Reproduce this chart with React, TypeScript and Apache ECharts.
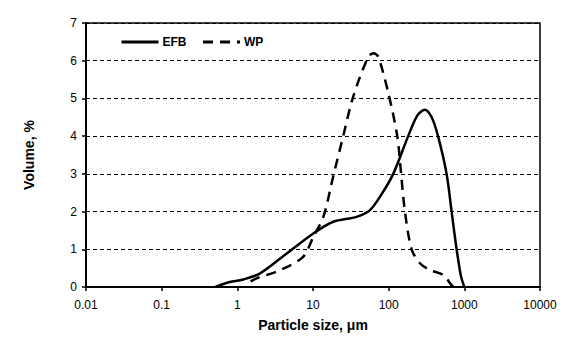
import React, { useEffect, useRef } from "react";
import * as echarts from "echarts";

const efbSize = [0.51, 0.75, 1.2, 2.0, 4.5, 10.1, 18.5, 37.7, 56.6, 80, 115, 181, 240, 300, 370, 449, 583, 679, 791, 900, 1000];
const efbVolume = [0, 0.12, 0.2, 0.36, 0.89, 1.42, 1.73, 1.86, 2.04, 2.45, 3.0, 4.0, 4.55, 4.7, 4.5, 4.0, 3.0, 2.0, 1.0, 0.3, 0];
const wpSize = [1.5, 1.8, 3.7, 7.4, 10.1, 13.7, 18.5, 25, 34, 53.6, 63, 73, 99, 130, 146, 164, 201, 259, 350, 525, 676, 716];
const wpVolume = [0.15, 0.23, 0.45, 0.8, 1.33, 1.86, 2.93, 3.99, 5.05, 6.1, 6.2, 6.1, 5.14, 4.0, 3.0, 2.0, 1.0, 0.63, 0.45, 0.32, 0.05, 0];
const xTicks = ["0.01", "0.1", "1", "10", "100", "1000", "10000"];

export default function App() {
  const ref = useRef<HTMLDivElement>(null);
  useEffect(() => {
    document.body.style.margin = "0";
    const chart = echarts.init(ref.current!, null, { renderer: "svg" });
    const font = "'Liberation Sans', Arial, sans-serif";
    chart.setOption({
      animation: false,
      textStyle: { fontFamily: font },
      grid: { left: 86, top: 23, width: 454, height: 264, show: true, borderColor: "#000", borderWidth: 1.5, backgroundColor: "transparent" },
      legend: {
        left: 115,
        top: 31,
        itemWidth: 37,
        itemHeight: 10,
        itemGap: 15,
        itemStyle: { opacity: 0 },
        lineStyle: { width: 3 },
        textStyle: { fontFamily: font, fontSize: 12, fontWeight: "bold", color: "#000", padding: [0, 0, 0, -1] },
        data: ["EFB", "WP"],
      },
      xAxis: {
        type: "log",
        logBase: 10,
        min: 0.01,
        max: 10000,
        name: "Particle size, μm",
        nameLocation: "middle",
        nameGap: 31,
        nameTextStyle: { fontFamily: font, fontSize: 14, fontWeight: "bold", color: "#000" },
        axisLine: { lineStyle: { color: "#000", width: 2 } },
        axisTick: { show: true, length: 4, lineStyle: { color: "#000", width: 1.5 } },
        minorTick: { show: false },
        splitLine: { show: false },
        axisLabel: {
          color: "#000",
          fontSize: 12,
          margin: 12,
          formatter: (v: number) => {
            const i = Math.round(Math.log10(v)) + 2;
            return xTicks[i] ?? "";
          },
        },
      },
      yAxis: {
        type: "value",
        min: 0,
        max: 7,
        interval: 1,
        name: "Volume, %",
        nameLocation: "middle",
        nameGap: 50,
        nameTextStyle: { fontFamily: font, fontSize: 14, fontWeight: "bold", color: "#000" },
        axisLine: { show: true, lineStyle: { color: "#000", width: 2 } },
        axisTick: { show: true, length: 4, lineStyle: { color: "#000", width: 1.5 } },
        axisLabel: { color: "#000", fontSize: 12, margin: 9 },
        splitLine: { show: true, lineStyle: { color: "#000", type: [4, 3], width: 1 } },
      },
      series: [
        {
          name: "EFB",
          type: "line",
          smooth: 0.3,
          symbol: "none",
          data: efbSize.map((x, i) => [x, efbVolume[i]]),
          lineStyle: { color: "#000", width: 2.5 },
          itemStyle: { color: "#000" },
        },
        {
          name: "WP",
          type: "line",
          smooth: 0.3,
          symbol: "none",
          data: wpSize.map((x, i) => [x, wpVolume[i]]),
          lineStyle: { color: "#000", width: 2.5, type: [10, 7] },
          itemStyle: { color: "#000" },
        },
      ],
    });
    return () => chart.dispose();
  }, []);
  return <div ref={ref} style={{ width: 567, height: 351 }} />;
}
